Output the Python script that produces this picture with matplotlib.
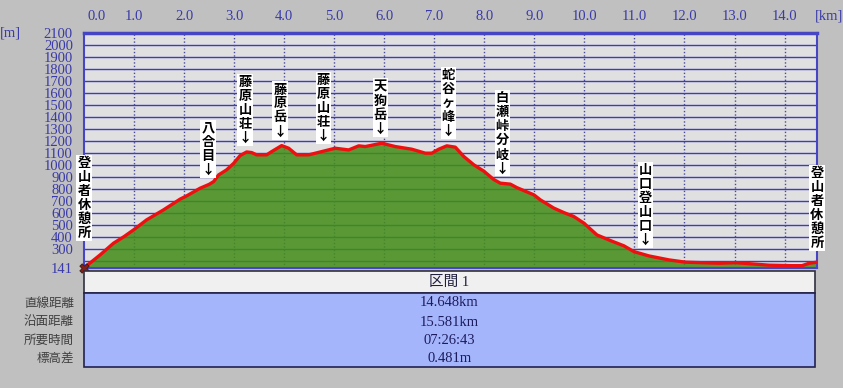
import numpy as np
import matplotlib
matplotlib.use('Agg')
import matplotlib.pyplot as plt
from matplotlib.patches import Rectangle

plt.rcParams['font.family'] = ['Noto Sans CJK JP', 'DejaVu Sans']

# elevation profile (km, m)
dist_km = [0.00, 0.15, 0.32, 0.59, 0.80, 0.99, 1.25, 1.59, 1.92, 2.05, 2.32, 2.50,
           2.59, 2.69, 2.85, 2.99, 3.12, 3.25, 3.35, 3.45, 3.65, 3.75, 3.95, 4.09,
           4.25, 4.49, 4.75, 5.02, 5.29, 5.49, 5.62, 5.95, 6.22, 6.55, 6.82, 6.95,
           7.09, 7.25, 7.42, 7.59, 7.79, 7.99, 8.19, 8.32, 8.52, 8.65, 8.99, 9.12,
           9.39, 9.59, 9.79, 9.99, 10.25, 10.52, 10.79, 10.99, 11.29, 11.69, 12.02,
           12.69, 13.02, 13.69, 14.15, 14.35, 14.49, 14.648]
elev_m = [141, 190, 247, 345, 400, 456, 539, 623, 712, 739, 803, 835,
          858, 914, 956, 1010, 1075, 1105, 1100, 1081, 1081, 1108, 1158, 1136,
          1081, 1081, 1108, 1136, 1122, 1156, 1150, 1178, 1150, 1128, 1095, 1095,
          1128, 1156, 1145, 1067, 998, 945, 875, 845, 837, 808, 748, 706,
          637, 600, 567, 512, 414, 367, 323, 275, 239, 206, 187,
          178, 183, 162, 158, 158, 178, 187]

landmark_names = ['登山者休憩所', '八合目', '藤原山荘', '藤原岳', '藤原山荘', '天狗岳',
                  '蛇谷ヶ峰', '白瀬峠分岐', '山口登山口', '登山者休憩所']
landmark_km = [0.0, 2.48, 3.22, 3.92, 4.78, 5.92, 7.28, 8.36, 11.22, 14.648]

x_ticks = list(range(0, 15))
y_grid = list(range(200, 2101, 100))
y_labels = [141] + list(range(300, 2101, 100))

section_title = '区間 1'
row_labels = ['直線距離', '沿面距離', '所要時間', '標高差']
row_values = ['14.648km', '15.581km', '07:26:43', '0.481m']

W, H = 843, 388
fig = plt.figure(figsize=(W / 100, H / 100), dpi=100, facecolor='#c0c0c0')


def box(l, t, r, b):
    return [l / W, 1 - b / H, (r - l) / W, (b - t) / H]


serif = ['Liberation Serif', 'Noto Sans CJK JP']
num_color = '#3a3aa8'

ax = fig.add_axes(box(84, 32.5, 817, 267.7))
ax.set_xlim(0, dist_km[-1])
ax.set_ylim(elev_m[0], 2100)
ax.set_facecolor('#e0e0e0')

for y in y_grid:
    ax.axhline(y, color='#3c3cc0', lw=1, zorder=1)
for k in x_ticks[1:]:
    ax.axvline(k, color='#4a4a9a', lw=1, ls=(0, (1, 1.5)), zorder=1)

ax.fill_between(dist_km, elev_m, elev_m[0], color='#458e1a', alpha=0.87, lw=0, zorder=2)
ax.plot(dist_km, elev_m, color='#ee1010', lw=2.4, zorder=3, solid_capstyle='round')
# hiker icon at the start point
ax.scatter([dist_km[0]], [elev_m[0]], marker='X', s=45, color='#8b1a1a',
           edgecolor='#3a1a10', lw=0.6, zorder=6, clip_on=False)

ax.set_xticks([])
ax.set_yticks(y_labels)
ax.set_yticklabels([str(v) for v in y_labels], family=serif, fontsize=10.5, color=num_color)
ax.tick_params(axis='y', length=0, pad=8)
for s in ax.spines.values():
    s.set_color('#4646c4')
    s.set_linewidth(1.5)
ax.spines['top'].set_linewidth(2.5)

# km labels on top
for k in x_ticks:
    ax.annotate(f'{k:.1f}', (k, 1), xycoords=('data', 'axes fraction'),
                xytext=(13 if k == 0 else 0, 16), textcoords='offset pixels',
                ha='center', va='center', family=serif, fontsize=10.5, color=num_color)

fig.text(10 / W, 1 - 33 / H, '[m]', ha='center', va='center', family=serif, fontsize=10.5, color=num_color)
fig.text(829 / W, 1 - 16 / H, '[km]', ha='center', va='center', family=serif, fontsize=10.5, color=num_color)

# vertical landmark labels
for name, km in zip(landmark_names, landmark_km):
    y0 = np.interp(km, dist_km, elev_m)
    is_end = km == landmark_km[0] or km == landmark_km[-1]
    chars = list(name) + ([] if is_end else ['↓'])
    if km == landmark_km[0]:
        base = 35
    elif is_end:
        base = 19
    else:
        base = 15
    n = len(chars)
    for i, ch in enumerate(chars):
        off = base + (n - 1 - i) * 14
        ax.annotate(ch, (km, y0), xytext=(0, off), textcoords='offset pixels',
                    ha='center', va='center', fontsize=9.5, weight='bold', color='black',
                    zorder=5, annotation_clip=False,
                    bbox=dict(boxstyle='square,pad=0.08', fc='white', ec='none'))

# summary table
tab = fig.add_axes(box(84, 271, 815, 367))
tab.set_xlim(0, 1)
tab.set_ylim(96, 0)
tab.axis('off')
tab.add_patch(Rectangle((0, 0), 1, 22, fc='#f0f0f0', ec='#303040', lw=1.2, clip_on=False))
tab.add_patch(Rectangle((0, 22), 1, 74, fc='#a5b5fb', ec='#22224e', lw=1.2, clip_on=False))
tab.text(0.5, 11, section_title, ha='center', va='center', family=serif, fontsize=10.5, color='#202040')
row_y = [32, 51, 69, 87]
for lab, val, ry in zip(row_labels, row_values, row_y):
    tab.text(0.5, ry, val, ha='center', va='center', family=serif, fontsize=10.5, color='#1c1c5c')
    tab.annotate(lab, (0, ry), xytext=(-10, 0), textcoords='offset pixels',
                 ha='right', va='center', fontsize=9, color='#404040', annotation_clip=False)

fig.savefig('out.png', dpi=100, facecolor=fig.get_facecolor())
